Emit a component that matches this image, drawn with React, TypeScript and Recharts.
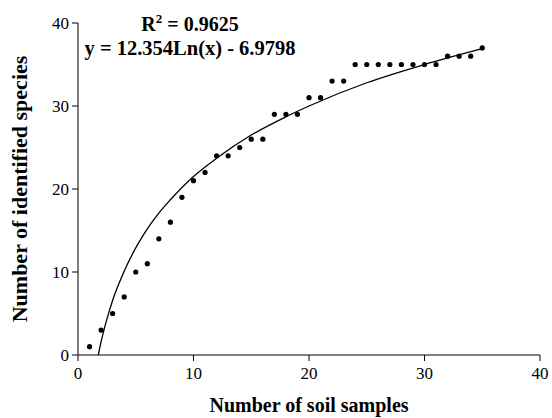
import React from 'react';
import { ComposedChart, Scatter, Line, XAxis, YAxis } from 'recharts';

// observed species count per number of soil samples
const samples = [1, 2, 3, 4, 5, 6, 7, 8, 9, 10, 11, 12, 13, 14, 15, 16, 17, 18, 19, 20, 21, 22, 23, 24, 25, 26, 27, 28, 29, 30, 31, 32, 33, 34, 35];
const species = [1, 3, 5, 7, 10, 11, 14, 16, 19, 21, 22, 24, 24, 25, 26, 26, 29, 29, 29, 31, 31, 33, 33, 35, 35, 35, 35, 35, 35, 35, 35, 36, 36, 36, 37];

// logarithmic trend line
const trendX = [1.76, 2, 2.5, 3, 4, 5, 6, 7, 8, 10, 12, 15, 18, 20, 25, 30, 35];
const trendY = [0, 1.6, 4.3, 6.6, 10.1, 12.9, 15.2, 17.1, 18.7, 21.5, 23.7, 26.5, 28.7, 30.0, 32.8, 35.0, 36.9];

const xTicks = [0, 10, 20, 30, 40];
const yTicks = [0, 10, 20, 30, 40];

const points = samples.map((x, i) => ({ x, y: species[i] }));
const trend = trendX.map((x, i) => ({ x, y: trendY[i] }));

const FONT = '"Liberation Serif", "Times New Roman", serif';

const Dot = (props: any) => <circle cx={props.cx} cy={props.cy} r={2.6} fill="#000" />;

export default function App() {
  return (
    <div style={{ position: 'absolute', left: 0, top: 0, background: '#fff' }}>
      <ComposedChart width={552} height={418} margin={{ top: 23, right: 12, bottom: 0, left: 0 }}>
        <XAxis
          type="number"
          dataKey="x"
          domain={[0, 40]}
          ticks={xTicks}
          height={63}
          stroke="#000"
          tickSize={6}
          tickMargin={6}
          tick={{ fill: '#000', fontSize: 17, fontFamily: FONT }}
          label={{
            value: 'Number of soil samples',
            position: 'insideBottom',
            offset: 6,
            fill: '#000',
            fontSize: 20,
            fontWeight: 'bold',
            fontFamily: FONT,
          }}
        />
        <YAxis
          type="number"
          dataKey="y"
          domain={[0, 40]}
          ticks={yTicks}
          width={78}
          stroke="#000"
          tickSize={6}
          tickMargin={3}
          tick={{ fill: '#000', fontSize: 17, fontFamily: FONT }}
          label={{
            content: (p: any) => {
              const vb = p.viewBox;
              const cx = 19;
              const cy = vb.y + vb.height / 2;
              return (
                <text
                  x={cx}
                  y={cy}
                  transform={`rotate(-90, ${cx}, ${cy})`}
                  textAnchor="middle"
                  dominantBaseline="central"
                  fontFamily={FONT}
                  fontSize={22}
                  fontWeight="bold"
                  fill="#000"
                >
                  Number of identified species
                </text>
              );
            },
          }}
        />
        <Line
          data={trend}
          dataKey="y"
          type="monotone"
          stroke="#000"
          strokeWidth={1.3}
          dot={false}
          activeDot={false}
          isAnimationActive={false}
        />
        <Scatter data={points} dataKey="y" shape={Dot} isAnimationActive={false} />
        <text x={190} y={31} textAnchor="middle" fontFamily={FONT} fontSize={20} fontWeight="bold" fill="#000">
          R<tspan dy={-8} fontSize={13}>2</tspan>
          <tspan dy={8}> = 0.9625</tspan>
        </text>
        <text x={190} y={55} textAnchor="middle" fontFamily={FONT} fontSize={20.5} fontWeight="bold" fill="#000">
          y = 12.354Ln(x) - 6.9798
        </text>
      </ComposedChart>
    </div>
  );
}
